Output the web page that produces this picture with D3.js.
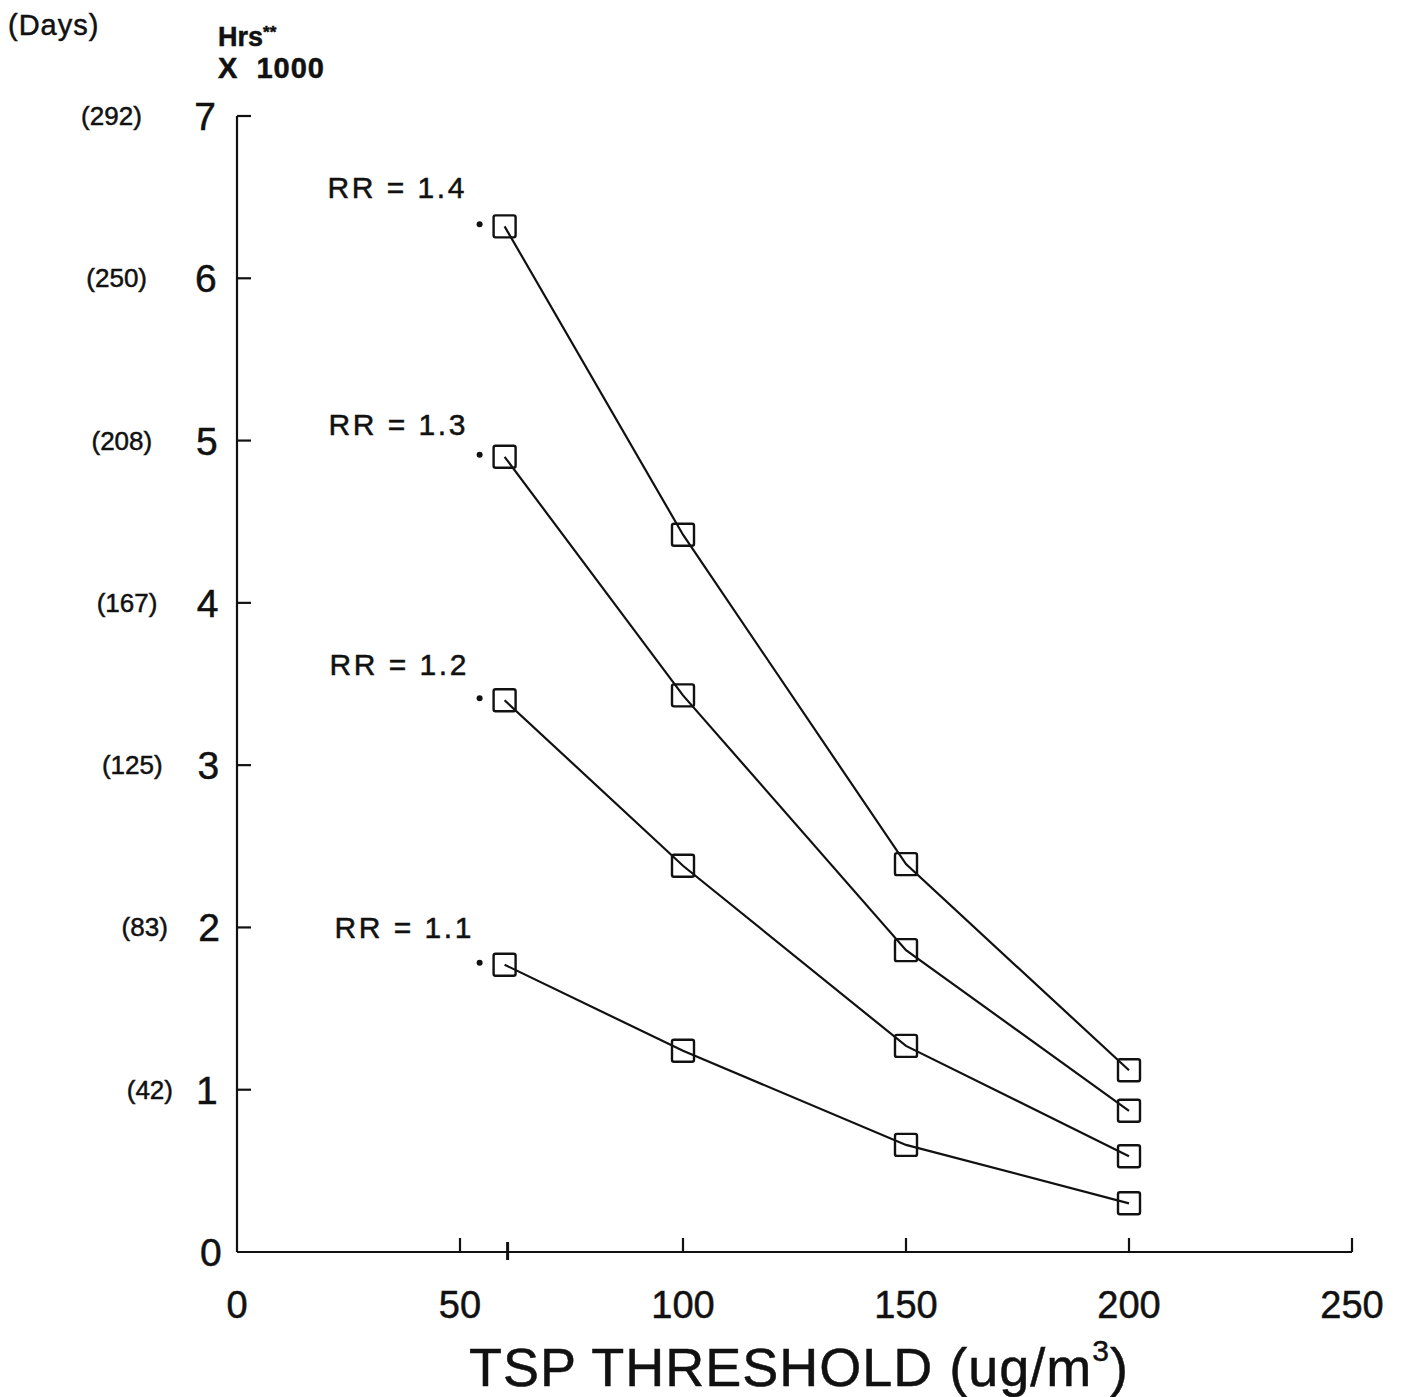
<!DOCTYPE html>
<html>
<head>
<meta charset="utf-8">
<script src="https://cdn.jsdelivr.net/npm/d3@7"></script>
<style>
  html, body { margin: 0; padding: 0; background: #fff; }
  svg { display: block; font-family: "Liberation Sans", Arial, Helvetica, sans-serif; }
  svg text { stroke: #111; stroke-width: 0.5px; }
</style>
</head>
<body>
<svg id="chart" width="1404" height="1397"></svg>
<script>
// TSP thresholds (ug/m3) at which excess hours were computed
const thresholds = [60, 100, 150, 200];

// Excess hours (x 1000) for each relative-risk assumption
const seriesNames = ["RR = 1.4", "RR = 1.3", "RR = 1.2", "RR = 1.1"];
const rr14 = [6.32, 4.42, 2.39, 1.12];
const rr13 = [4.90, 3.43, 1.86, 0.87];
const rr12 = [3.40, 2.38, 1.27, 0.59];
const rr11 = [1.77, 1.24, 0.66, 0.30];
const seriesValues = [rr14, rr13, rr12, rr11];

// Axis tick values and the matching day equivalents shown on the left
const xTicks = [0, 50, 100, 150, 200, 250];
const yTicks = [0, 1, 2, 3, 4, 5, 6, 7];
const dayLabels = ["(42)", "(83)", "(125)", "(167)", "(208)", "(250)", "(292)"];
const dayTicks = [1, 2, 3, 4, 5, 6, 7];

const svg = d3.select("#chart");

const x = d3.scaleLinear().domain([0, 250]).range([237, 1352]);
const y = d3.scaleLinear().domain([0, 7]).range([1252, 116]);

const ink = "#111";

// Axes frame: left and bottom only, ticks pointing inward
const axisG = svg.append("g").attr("stroke", ink).attr("stroke-width", 2.2).attr("fill", "none");
axisG.append("line").attr("x1", x(0)).attr("x2", x(0)).attr("y1", y(7)).attr("y2", y(0));
axisG.append("line").attr("x1", x(0)).attr("x2", x(250)).attr("y1", y(0)).attr("y2", y(0));

// y ticks (inward, to the right)
axisG.selectAll(".yt").data(yTicks.filter(d => d > 0)).join("line")
  .attr("x1", x(0)).attr("x2", x(0) + 14)
  .attr("y1", d => y(d)).attr("y2", d => y(d));

// x ticks (inward, upward)
axisG.selectAll(".xt").data(xTicks.filter(d => d > 0)).join("line")
  .attr("x1", d => x(d)).attr("x2", d => x(d))
  .attr("y1", y(0)).attr("y2", y(0) - 14);

// reference tick at the lowest threshold, crossing the axis
axisG.append("line")
  .attr("x1", x(thresholds[0]) + 3).attr("x2", x(thresholds[0]) + 3)
  .attr("y1", y(0) - 10).attr("y2", y(0) + 8)
  .attr("stroke-width", 3);

// y tick labels
svg.append("g").selectAll("text").data(yTicks).join("text")
  .attr("x", d => 216 + (7 - d) * 0.8 + (d === 1 ? -3 : 0))
  .attr("y", d => y(d) + 14)
  .attr("text-anchor", "end")
  .attr("font-size", 39)
  .attr("fill", ink)
  .text(d => d);

// day-equivalent labels, drifting slightly right down the axis
svg.append("g").selectAll("text").data(dayTicks).join("text")
  .attr("x", d => 173 - (d - 1) * 5.2)
  .attr("y", d => y(d) + 9)
  .attr("text-anchor", "end")
  .attr("font-size", 26)
  .attr("fill", ink)
  .text((d, i) => dayLabels[i]);

// x tick labels
svg.append("g").selectAll("text").data(xTicks).join("text")
  .attr("x", d => x(d))
  .attr("y", 1318)
  .attr("text-anchor", "middle")
  .attr("font-size", 38)
  .attr("fill", ink)
  .text(d => d);

// axis titles
svg.append("text").attr("x", 8).attr("y", 35)
  .attr("font-size", 29).attr("letter-spacing", 1).attr("fill", ink).text("(Days)");
const hrs = svg.append("text").attr("x", 218).attr("y", 46)
  .attr("font-size", 27).attr("font-weight", "bold").attr("fill", ink);
hrs.append("tspan").text("Hrs");
hrs.append("tspan").attr("font-size", 17).attr("dy", -8).text("**");
svg.append("text").attr("x", 218).attr("y", 78)
  .attr("font-size", 29).attr("font-weight", "bold").attr("fill", ink)
  .attr("letter-spacing", 1)
  .attr("xml:space", "preserve").text("X  1000");

const xt = svg.append("text").attr("x", 799).attr("y", 1386)
  .attr("text-anchor", "middle").attr("font-size", 54).attr("fill", ink)
  .attr("letter-spacing", 1);
xt.append("tspan").text("TSP THRESHOLD (ug/m");
xt.append("tspan").attr("font-size", 30).attr("dy", -25).text("3");
xt.append("tspan").attr("dy", 25).text(")");

// series lines and square markers
const line = d3.line().x((d, i) => x(thresholds[i])).y(d => y(d));
const sq = 22;
const labelOffsets = [[-177, -28], [-176, -22], [-175, -25], [-170, -27]];

seriesValues.forEach((vals, s) => {
  const g = svg.append("g");
  g.append("path").datum(vals)
    .attr("d", line)
    .attr("fill", "none").attr("stroke", ink).attr("stroke-width", 2.2);
  g.selectAll("rect").data(vals).join("rect")
    .attr("x", (d, i) => x(thresholds[i]) - sq / 2)
    .attr("y", d => y(d) - sq / 2)
    .attr("width", sq).attr("height", sq)
    .attr("rx", 2)
    .attr("fill", "none").attr("stroke", ink).attr("stroke-width", 2.4);
  // footnote dot beside the first marker
  g.append("circle")
    .attr("cx", x(thresholds[0]) - 25).attr("cy", y(vals[0]) - 2)
    .attr("r", 3).attr("fill", ink);
  // series label
  g.append("text")
    .attr("x", x(thresholds[0]) + labelOffsets[s][0])
    .attr("y", y(vals[0]) + labelOffsets[s][1])
    .attr("font-size", 30).attr("letter-spacing", 2.5).attr("fill", ink)
    .attr("xml:space", "preserve")
    .text(seriesNames[s]);
});
</script>
</body>
</html>
